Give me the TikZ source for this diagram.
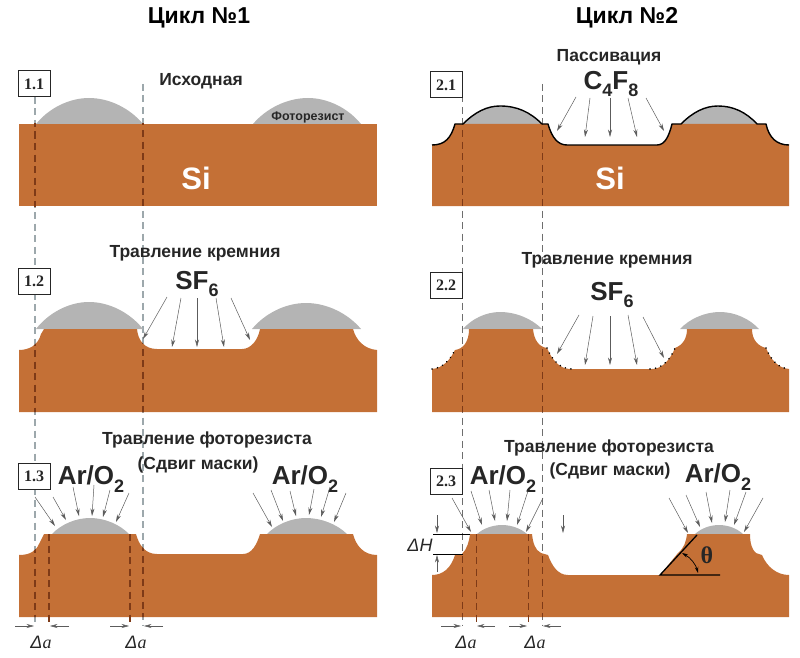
\documentclass[tikz,border=0pt]{standalone}
\usepackage{fontspec}
\setmainfont{Liberation Sans}
\newfontfamily\tagserif{Liberation Serif}
\newfontfamily\delfont{Liberation Sans}
\usetikzlibrary{arrows.meta}
\definecolor{siC}{HTML}{C47036}
\definecolor{resistC}{HTML}{B4B4B4}
\definecolor{guideC}{HTML}{9DA8AC}
\definecolor{guideR}{HTML}{6E6E6E}
\definecolor{darkC}{HTML}{7E3A17}
\definecolor{inkC}{HTML}{262626}
\newcommand\fs[1]{\fontsize{#1}{#1}\selectfont}
\newcommand\low[2]{\raisebox{-0.28em}{\fs{#1}#2}}
\newcommand\delA{{\delfont\itshape Δ}a}
\newcommand\delH{{\delfont\itshape ΔH}}
\newcommand\capshape[5]{%
  \pgfmathsetmacro\cax{#1+0.24*(#2-#1)}%
  \pgfmathsetmacro\cay{#4-0.6*(#4-#5)}%
  \pgfmathsetmacro\cbx{#1+0.62*(#2-#1)}%
  \pgfmathsetmacro\ccx{#3-0.62*(#3-#2)}%
  \pgfmathsetmacro\cdx{#3-0.24*(#3-#2)}%
  \fill[resistC] (#1,#4) .. controls (\cax,\cay) and (\cbx,#5) .. (#2,#5) .. controls (\ccx,#5) and (\cdx,\cay) .. (#3,#4) -- cycle;}
% silicon profiles
\newcommand\pOneA{(19,124) -- (377,124) -- (377,206) -- (19,206) -- cycle}
\newcommand\pOneB{(19,412) -- (19,350) .. controls (28,350) and (38,346) .. (41,334) -- (44,329) -- (137,329) .. controls (138,340) and (144,349) .. (157,349) -- (242,349) .. controls (251,349) and (258,340) .. (260,329) -- (353,329) .. controls (356,340) and (364,349) .. (377,350) -- (377,412) -- cycle}
\newcommand\pOneC{(19,617) -- (19,555) .. controls (30,555) and (36,551) .. (39,544) -- (44,534) -- (136,534) .. controls (139,545) and (145,554) .. (157,554) -- (243,554) .. controls (252,554) and (257,544) .. (260,534) -- (353,534) .. controls (356,546) and (364,555) .. (377,555) -- (377,617) -- cycle}
\newcommand\topTwoA{(432,145) .. controls (445,145) and (451,138) .. (455,124) -- (463,124) .. controls (475,112) and (487,106) .. (500,106) .. controls (517,106) and (530,112) .. (542,124) -- (548,124) .. controls (552,138) and (558,145) .. (567,145) -- (657,145) .. controls (665,145) and (669,136) .. (672,124) -- (681,124) .. controls (693,112) and (705,106) .. (718,106) .. controls (733,106) and (746,112) .. (757,124) -- (766,124) .. controls (769,138) and (777,145) .. (789,145)}
\newcommand\pTwoA{(432,206) -- (432,145) .. controls (445,145) and (451,138) .. (455,124) -- (548,124) .. controls (552,138) and (558,145) .. (567,145) -- (657,145) .. controls (665,145) and (669,136) .. (672,124) -- (766,124) .. controls (769,138) and (777,145) .. (789,145) -- (789,206) -- cycle}
\newcommand\pTwoB{(432,412) -- (432,369) .. controls (443,368) and (450,360) .. (455,350) .. controls (463,349) and (469,342) .. (469,329) -- (533,329) .. controls (534,340) and (539,347) .. (547,348) .. controls (552,360) and (560,369) .. (570,369) -- (652,369) .. controls (662,369) and (670,360) .. (675,348) .. controls (683,345) and (687,338) .. (687,329) -- (752,329) .. controls (752,340) and (758,346) .. (766,348) .. controls (771,360) and (778,368) .. (789,369) -- (789,412) -- cycle}
\newcommand\pTwoC{(432,617) -- (432,575) .. controls (443,575) and (451,568) .. (455,555) -- (462,554) .. controls (467,549) and (469,542) .. (470,534) -- (532,534) .. controls (533,543) and (535,550) .. (541,553) -- (548,555) .. controls (552,566) and (558,575) .. (568,575) -- (660,575) -- (678,553) .. controls (684,548) and (686,542) .. (687,534) -- (750,534) .. controls (750,543) and (752,550) .. (756,553) -- (762,555) .. controls (767,567) and (777,575) .. (789,575) -- (789,617) -- cycle}
\tikzset{
  guideL/.style={guideC,line width=1.1pt,dash pattern=on 7pt off 4.5pt},
  guideRt/.style={guideR,line width=0.8pt,dash pattern=on 7pt off 4.5pt},
  darkL/.style={darkC,line width=1.1pt,dash pattern=on 7pt off 4.5pt},
  flow/.style={inkC!75,line width=0.5pt,-{Stealth[length=7.5pt,width=4pt]}},
  tagbox/.style={draw=inkC,fill=white,line width=1pt,minimum width=32pt,minimum height=26pt,inner sep=0pt,font=\tagserif\bfseries\fs{16},text=inkC},
  lab/.style={inner sep=0pt,text=inkC,font=\bfseries\fs{17.5}},
  gas/.style={inner sep=0pt,text=inkC,font=\bfseries\fs{26}},
  title/.style={inner sep=0pt,text=black,font=\bfseries\fs{23}},
  si/.style={inner sep=0pt,text=white,font=\bfseries\fs{31}},
  delta/.style={inner sep=0pt,text=inkC,font=\tagserif\itshape\fs{18}},
}
\begin{document}
\begin{tikzpicture}[x=1pt,y=-1pt]
\useasboundingbox (0,0) rectangle (800,658);
% guide lines behind everything
\draw[guideL] (35,97) -- (35,625);
\draw[guideL] (143,84) -- (143,625);
\draw[guideRt] (462,84) -- (462,625);
\draw[guideRt] (542,84) -- (542,625);
% resist
\capshape{36}{89}{143}{124}{98}
\capshape{253}{308}{361}{124}{98}
\capshape{36}{89}{143}{329}{302}
\capshape{252}{306}{361}{329}{303}
\capshape{52}{90}{129}{534}{518}
\capshape{267}{306}{347}{534}{518}
\capshape{463}{500}{542}{124}{106}
\capshape{681}{718}{757}{124}{106}
\capshape{463}{500}{542}{329}{312}
\capshape{680}{720}{759}{329}{312}
\capshape{477}{502}{527}{534}{525}
\capshape{695}{719}{743}{534}{525}
% silicon
\fill[siC] \pOneA;
\fill[siC] \pOneB;
\fill[siC] \pOneC;
\fill[siC] \pTwoA;
\fill[siC] \pTwoB;
\fill[siC] \pTwoC;
% dark dashes inside the silicon
\begin{scope}\clip \pOneA; \draw[darkL] (35,97) -- (35,625); \draw[darkL] (143,84) -- (143,625); \end{scope}
\begin{scope}\clip \pOneB; \draw[darkL] (35,97) -- (35,625); \draw[darkL] (143,84) -- (143,625); \end{scope}
\begin{scope}\clip \pOneC; \draw[darkL] (35,97) -- (35,625); \draw[darkL] (143,84) -- (143,625); \end{scope}
\begin{scope}\clip \pTwoA; \draw[darkL,line width=.9pt] (462,84) -- (462,625); \draw[darkL,line width=.9pt] (542,84) -- (542,625); \end{scope}
\begin{scope}\clip \pTwoB; \draw[darkL,line width=.9pt] (462,84) -- (462,625); \draw[darkL,line width=.9pt] (542,84) -- (542,625); \end{scope}
\begin{scope}\clip \pTwoC; \draw[darkL,line width=.9pt] (462,84) -- (462,625); \draw[darkL,line width=.9pt] (542,84) -- (542,625); \end{scope}
\draw[darkL] (49,534) -- (49,625);
\draw[darkL] (130,534) -- (130,625);
\draw[darkL,line width=.9pt] (476,534) -- (476,625);
\draw[darkL,line width=.9pt] (528,534) -- (528,625);
% passivation outline and residue dots
\draw[black,line width=1.4pt,line join=round] \topTwoA;
\begin{scope}[black,line width=1.7pt,line cap=round,dash pattern=on 0.1pt off 5.5pt]
\draw (432,369) .. controls (443,368) and (450,360) .. (455,350);
\draw (547,348) .. controls (552,360) and (560,369) .. (572,369);
\draw (650,369) .. controls (662,369) and (670,360) .. (675,348);
\draw (766,348) .. controls (771,360) and (778,368) .. (789,369);
\end{scope}
% labels
\node[title] (t1) at (199,18) {Цикл №1};
\node[title] (t2) at (627,18) {Цикл №2};
\node[tagbox] (b11) at (34,84) {1.1};
\node[tagbox] (b12) at (34,281) {1.2};
\node[tagbox] (b13) at (34,476) {1.3};
\node[tagbox] (b21) at (446,85) {2.1};
\node[tagbox] (b22) at (446,285) {2.2};
\node[tagbox] (b23) at (446,481) {2.3};
\node[lab] (l11) at (201,81) {Исходная};
\node[inner sep=0pt,text=inkC,font=\bfseries\fs{12.5}] (l11b) at (308,117) {Фоторезист};
\node[si] (s1) at (196,178) {Si};
\node[si] (s2) at (610,178) {Si};
\node[lab] (l12) at (195,253) {Травление кремния};
\node[lab] (l13) at (207,440) {Травление фоторезиста};
\node[lab] (l13b) at (198,465) {(Сдвиг маски)};
\node[lab] (l21) at (609,57) {Пассивация};
\node[lab] (l22) at (607,260) {Травление кремния};
\node[lab] (l23) at (609,448) {Травление фоторезиста};
\node[lab] (l23b) at (610,471) {(Сдвиг маски)};
\node[gas] (g21) at (611,84) {C\low{18}{4}F\low{18}{8}};
\node[gas] (g12) at (197,284) {SF\low{18}{6}};
\node[gas] (g22) at (612,295) {SF\low{18}{6}};
\node[gas] (g13a) at (91,479) {Ar/O\low{18}{2}};
\node[gas] (g13b) at (305,479) {Ar/O\low{18}{2}};
\node[gas] (g23a) at (503,479) {Ar/O\low{18}{2}};
\node[gas] (g23b) at (718,477) {Ar/O\low{18}{2}};
% C4F8
\draw[flow] (576,97) -- (557,131);
\draw[flow] (590,98) -- (585,137);
\draw[flow] (610,98) -- (610,137);
\draw[flow] (628,98) -- (637,137);
\draw[flow] (646,98) -- (664,131);
% SF6 left
\draw[flow] (167,297) -- (143,339);
\draw[flow] (181,298) -- (172,347);
\draw[flow] (197,298) -- (197,347);
\draw[flow] (216,298) -- (224,347);
\draw[flow] (231,298) -- (250,340);
% SF6 right
\draw[flow] (579,315) -- (557,354);
\draw[flow] (593,316) -- (585,365);
\draw[flow] (610,316) -- (610,365);
\draw[flow] (628,315) -- (637,365);
\draw[flow] (643,317) -- (664,358);
% Ar/O2 1.3
\draw[flow] (35,497) -- (55,526);
\draw[flow] (53,497) -- (66,520);
\draw[flow] (73,487) -- (79,516);
\draw[flow] (94,485) -- (92,516);
\draw[flow] (110,490) -- (103,517);
\draw[flow] (129,493) -- (116,522);
\draw[flow] (253,493) -- (272,527);
\draw[flow] (271,490) -- (283,521);
\draw[flow] (290,491) -- (296,516);
\draw[flow] (314,489) -- (309,515);
\draw[flow] (330,487) -- (321,517);
\draw[flow] (346,493) -- (334,522);
% Ar/O2 2.3
\draw[flow] (452,498) -- (471,532);
\draw[flow] (471,491) -- (482,525);
\draw[flow] (489,490) -- (495,521);
\draw[flow] (510,490) -- (507,521);
\draw[flow] (528,491) -- (517,525);
\draw[flow] (543,498) -- (526,532);
\draw[flow] (669,498) -- (688,533);
\draw[flow] (686,495) -- (700,527);
\draw[flow] (706,492) -- (712,523);
\draw[flow] (730,490) -- (725,522);
\draw[flow] (746,492) -- (734,525);
\draw[flow] (763,498) -- (744,532);
\draw[flow] (563,515) -- (563,533);
% delta a
\draw[flow] (15,626) -- (34,626);
\draw[flow] (69,626) -- (50,626);
\draw[flow] (110,626) -- (129,626);
\draw[flow] (163,626) -- (144,626);
\draw[flow] (441,626) -- (461,626);
\draw[flow] (495,626) -- (477,626);
\draw[flow] (509,626) -- (527,626);
\draw[flow] (561,626) -- (543,626);
\node[delta] (da1) at (41,642) {\delA};
\node[delta] (da2) at (136,642) {\delA};
\node[delta] (da3) at (466,642) {\delA};
\node[delta] (da4) at (535,642) {\delA};
% delta H
\draw[black,line width=.6pt] (433,534) -- (470,534);
\draw[black,line width=.6pt] (433,554) -- (463,554);
\draw[flow] (437,515) -- (437,533);
\draw[flow] (437,572) -- (437,555);
\node[delta] (dhn) at (420,545) {\delH};
% theta
\draw[black,line width=1.3pt] (697,535) -- (660,575) -- (720,575);
\draw[black,line width=.7pt,{Stealth[length=6pt,width=3.5pt]}-{Stealth[length=6pt,width=3.5pt]}] (682,553) .. controls (691,558) and (696,565) .. (698,573);
\node[inner sep=0pt,text=inkC,font=\tagserif\bfseries\fs{24}] (th) at (707,555) {θ};
\end{tikzpicture}
\end{document}
